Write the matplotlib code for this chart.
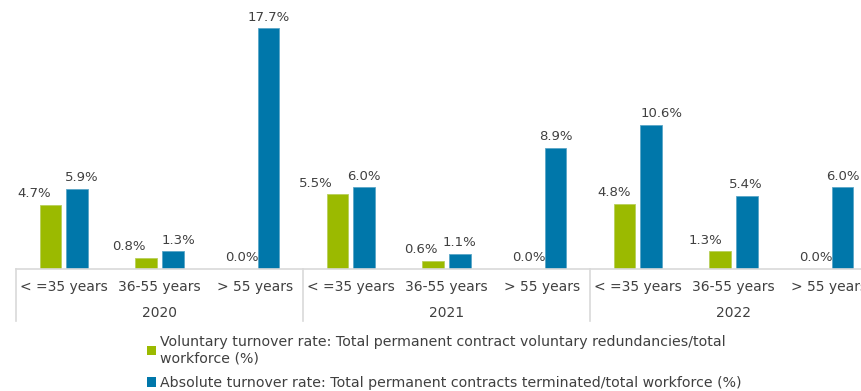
import matplotlib
matplotlib.use("Agg")
import matplotlib.pyplot as plt
from matplotlib.patches import Patch
import numpy as np

years = ["2020", "2021", "2022"]
age_bands = ["< =35 years", "36-55 years", "> 55 years"]
voluntary = [4.7, 0.8, 0.0, 5.5, 0.6, 0.0, 4.8, 1.3, 0.0]
absolute = [5.9, 1.3, 17.7, 6.0, 1.1, 8.9, 10.6, 5.4, 6.0]

voluntary_label = ("Voluntary turnover rate: Total permanent contract voluntary redundancies/total\n"
                   "workforce (%)")
absolute_label = "Absolute turnover rate: Total permanent contracts terminated/total workforce (%)"

# sideways nudges (px) for the value labels so neighbours don't collide
green_nudge = [-16, -17, 0, -22, -12, 0, -10, -15, 0]
blue_nudge = [5, 6, 0, 0, 0, 0, 10, -1, 0]

GREEN = "#9BBA00"
BLUE = "#0077AA"
TEXT = "#404040"
GRID = "#D9D9D9"

plt.rcParams["font.family"] = "DejaVu Sans"

W, H = 861, 391
fig = plt.figure(figsize=(W / 100, H / 100), dpi=100)
# plot area runs past the right edge, so the last group is cut off
ax = fig.add_axes([16 / W, (H - 269) / H, 861 / W, 258.4 / H])

x = np.arange(len(voluntary))
bw = 0.225
off = 0.14
gb = ax.bar(x - off, voluntary, bw, color=GREEN, edgecolor="#B8CF5A", linewidth=0.6)
bb = ax.bar(x + off, absolute, bw, color=BLUE, edgecolor="#5AA6C8", linewidth=0.6)

ax.set_xlim(-0.5, len(voluntary) - 0.5)
ax.set_ylim(0, 19)
ax.set_yticks([])
for s in ["top", "right", "left"]:
    ax.spines[s].set_visible(False)
ax.spines["bottom"].set_color(GRID)
ax.spines["bottom"].set_linewidth(1.2)

px = 0.72  # points per pixel at 100 dpi
for i in range(len(voluntary)):
    ax.annotate(f"{voluntary[i]:.1f}%", (x[i] - off, voluntary[i]),
                xytext=(green_nudge[i] * px, 5.5), textcoords="offset points",
                ha="center", va="baseline", fontsize=9.5, color=TEXT)
    ax.annotate(f"{absolute[i]:.1f}%", (x[i] + off, absolute[i]),
                xytext=(blue_nudge[i] * px, 5.5), textcoords="offset points",
                ha="center", va="baseline", fontsize=9.5, color=TEXT)

ax.set_xticks(x)
ax.set_xticklabels(age_bands * len(years), fontsize=10, color=TEXT)
ax.tick_params(axis="x", length=0, pad=8)

# year labels and group dividers below the axis
trans = ax.get_xaxis_transform()
for k, yr in enumerate(years):
    ax.text(3 * k + 1, -0.172, yr, transform=trans, ha="center", va="center",
            fontsize=10, color=TEXT)
for b in range(len(years) + 1):
    ax.plot([3 * b - 0.5, 3 * b - 0.5], [0, -0.2], transform=trans,
            color=GRID, linewidth=1.2, clip_on=False)

handles = [Patch(facecolor=GREEN, edgecolor="none"), Patch(facecolor=BLUE, edgecolor="none")]
fig.legend(handles, [voluntary_label, absolute_label], loc="upper left",
           bbox_to_anchor=(147 / W, 1 - 335 / H), frameon=False, fontsize=10.2,
           handlelength=0.65, handleheight=0.65, handletextpad=0.3,
           labelspacing=0.75, labelcolor=TEXT, borderaxespad=0, borderpad=0)
plt.rcParams["legend.handleheight"] = 0.65

fig.savefig("out.png", dpi=100)
